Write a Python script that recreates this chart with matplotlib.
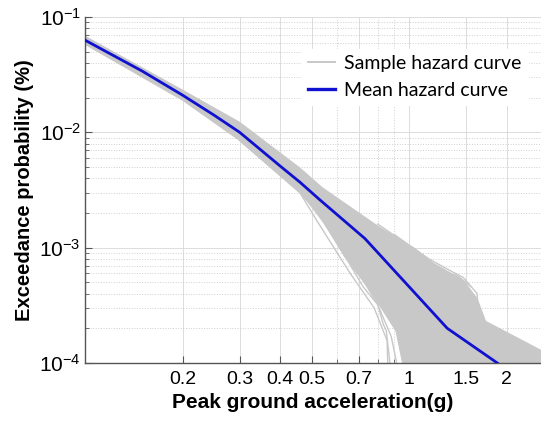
import matplotlib
matplotlib.use("Agg")
import matplotlib.pyplot as plt
from matplotlib.ticker import FixedLocator, FixedFormatter, NullFormatter

plt.rcParams['font.family'] = ['Liberation Sans', 'DejaVu Sans']
plt.rcParams['mathtext.fontset'] = 'custom'
plt.rcParams['mathtext.rm'] = 'Liberation Sans'
plt.rcParams['mathtext.it'] = 'Liberation Sans:italic'
plt.rcParams['mathtext.bf'] = 'Liberation Sans:bold'

# mean hazard curve
mean_pga = [0.1, 0.15, 0.2, 0.25, 0.3, 0.4, 0.46, 0.53, 0.73, 1.31, 1.87]
mean_prob = [0.063, 0.034, 0.021, 0.0141, 0.0100, 0.0051, 0.0037, 0.0026, 0.0012,
             2.0e-4, 1.0e-4]

# envelope of the dense bundle of sample curves
band_upper_pga = [0.1, 0.2, 0.3, 0.46, 0.54, 0.81, 1.03, 1.19, 1.47, 1.62, 1.72, 2.6]
band_upper_prob = [0.068, 0.0232, 0.0122, 0.0049, 0.0033, 0.0015, 0.0010, 7.3e-4,
                   5.2e-4, 3.6e-4, 2.3e-4, 1.25e-4]
band_lower_pga = [0.1, 0.2, 0.3, 0.46, 0.53, 0.63, 0.76, 0.91, 0.97, 2.6]
band_lower_prob = [0.058, 0.019, 0.0085, 0.0030, 0.0019, 8.5e-4, 4.2e-4, 1.9e-4, 8e-5, 8e-5]

# individual sample curves that stick out of the bundle
sample_curves = [
    ([0.3, 0.46, 0.52, 0.6, 0.66, 0.78, 0.855, 0.86],
     [0.0085, 0.0030, 0.0017, 9.0e-4, 5.9e-4, 3.0e-4, 1.56e-4, 8e-5]),
    ([0.46, 0.55, 0.65, 0.72, 0.80, 0.83, 0.85, 0.88],
     [0.0031, 0.0016, 7.5e-4, 4.6e-4, 3.2e-4, 2.2e-4, 1.9e-4, 8e-5]),
    ([0.5, 0.6, 0.7, 0.8, 0.88, 0.93],
     [0.0024, 0.0011, 6.0e-4, 3.2e-4, 1.7e-4, 8e-5]),
    ([0.6, 0.7, 0.8, 0.9, 0.98, 1.02],
     [0.0012, 7.0e-4, 4.0e-4, 2.4e-4, 1.4e-4, 8e-5]),
    ([0.9, 1.0, 1.15, 1.34, 1.47, 1.62, 1.64, 1.8],
     [0.0013, 0.00105, 8.0e-4, 6.3e-4, 5.5e-4, 4.0e-4, 2.3e-4, 1.8e-4]),
    ([0.9, 1.0, 1.2, 1.37, 1.5, 1.58, 1.7],
     [0.0012, 9.5e-4, 6.5e-4, 4.9e-4, 4.4e-4, 3.2e-4, 2.2e-4]),
    ([0.8, 0.95, 1.1, 1.25, 1.4, 1.55],
     [0.0016, 0.00115, 8.5e-4, 6.0e-4, 5.8e-4, 4.6e-4]),
]

x_ticks = [0.2, 0.3, 0.4, 0.5, 0.7, 1, 1.5, 2]
x_tick_labels = ['0.2', '0.3', '0.4', '0.5', '0.7', '1', '1.5', '2']
x_minor = [0.6, 0.8, 0.9]
y_ticks = [1e-4, 1e-3, 1e-2, 1e-1]
y_tick_labels = [r'$10^{-4}$', r'$10^{-3}$', r'$10^{-2}$', r'$10^{-1}$']

grey = '#c8c8c8'
blue = '#1010d0'

fig = plt.figure(figsize=(5.41, 4.21), dpi=100)
ax = fig.add_axes([85 / 541, 1 - 363 / 421, 1 - 85 / 541, 346 / 421])
ax.set_xscale('log')
ax.set_yscale('log')

ax.fill(band_upper_pga + band_lower_pga[::-1], band_upper_prob + band_lower_prob[::-1],
        color=grey, lw=0.8, zorder=2)
for i, (px, py) in enumerate(sample_curves):
    ax.plot(px, py, color=grey, lw=1.0, zorder=2,
            label='Sample hazard curve' if i == 0 else None)
ax.plot(mean_pga, mean_prob, color=blue, lw=2.0, zorder=3, label='Mean hazard curve')

ax.set_xlim(0.1, 2.55)
ax.set_ylim(1e-4, 1e-1)

ax.xaxis.set_major_locator(FixedLocator(x_ticks))
ax.xaxis.set_major_formatter(FixedFormatter(x_tick_labels))
ax.xaxis.set_minor_locator(FixedLocator(x_minor))
ax.xaxis.set_minor_formatter(NullFormatter())
ax.yaxis.set_major_locator(FixedLocator(y_ticks))
ax.yaxis.set_major_formatter(FixedFormatter(y_tick_labels))

ax.grid(True, which='major', color='#dcdcdc', lw=0.7, ls='-', zorder=0)
ax.grid(True, which='minor', color='#cfcfcf', lw=0.7, ls=':', zorder=0)
ax.set_axisbelow(True)

ax.tick_params(which='both', direction='in', color='#555555')
ax.tick_params(which='major', length=5, width=0.8)
ax.tick_params(which='minor', length=3, width=0.6)
ax.tick_params(axis='x', labelsize=14, pad=6)
ax.tick_params(axis='y', labelsize=15, pad=3)
for side in ['top', 'right']:
    ax.spines[side].set_visible(False)
for side in ['left', 'bottom']:
    ax.spines[side].set_color('#555555')
    ax.spines[side].set_linewidth(1.0)

ax.set_xlabel('Peak ground acceleration(g)', fontsize=15, fontweight='bold', labelpad=3)
ax.set_ylabel('Exceedance probability (%)', fontsize=14.5, fontweight='bold', labelpad=4)

leg = ax.legend(loc='upper left', bbox_to_anchor=(292 / 541, 1 - 39 / 421),
                bbox_transform=fig.transFigure, frameon=True, framealpha=1,
                edgecolor='white', facecolor='white', fancybox=False,
                prop={'family': 'Lato', 'size': 14}, handlelength=1.4,
                handletextpad=0.5, labelspacing=0.55, borderpad=0.3)
leg.get_lines()[0].set_linewidth(1.4)
leg.get_lines()[1].set_linewidth(2.4)

fig.savefig('out.png', dpi=100)
